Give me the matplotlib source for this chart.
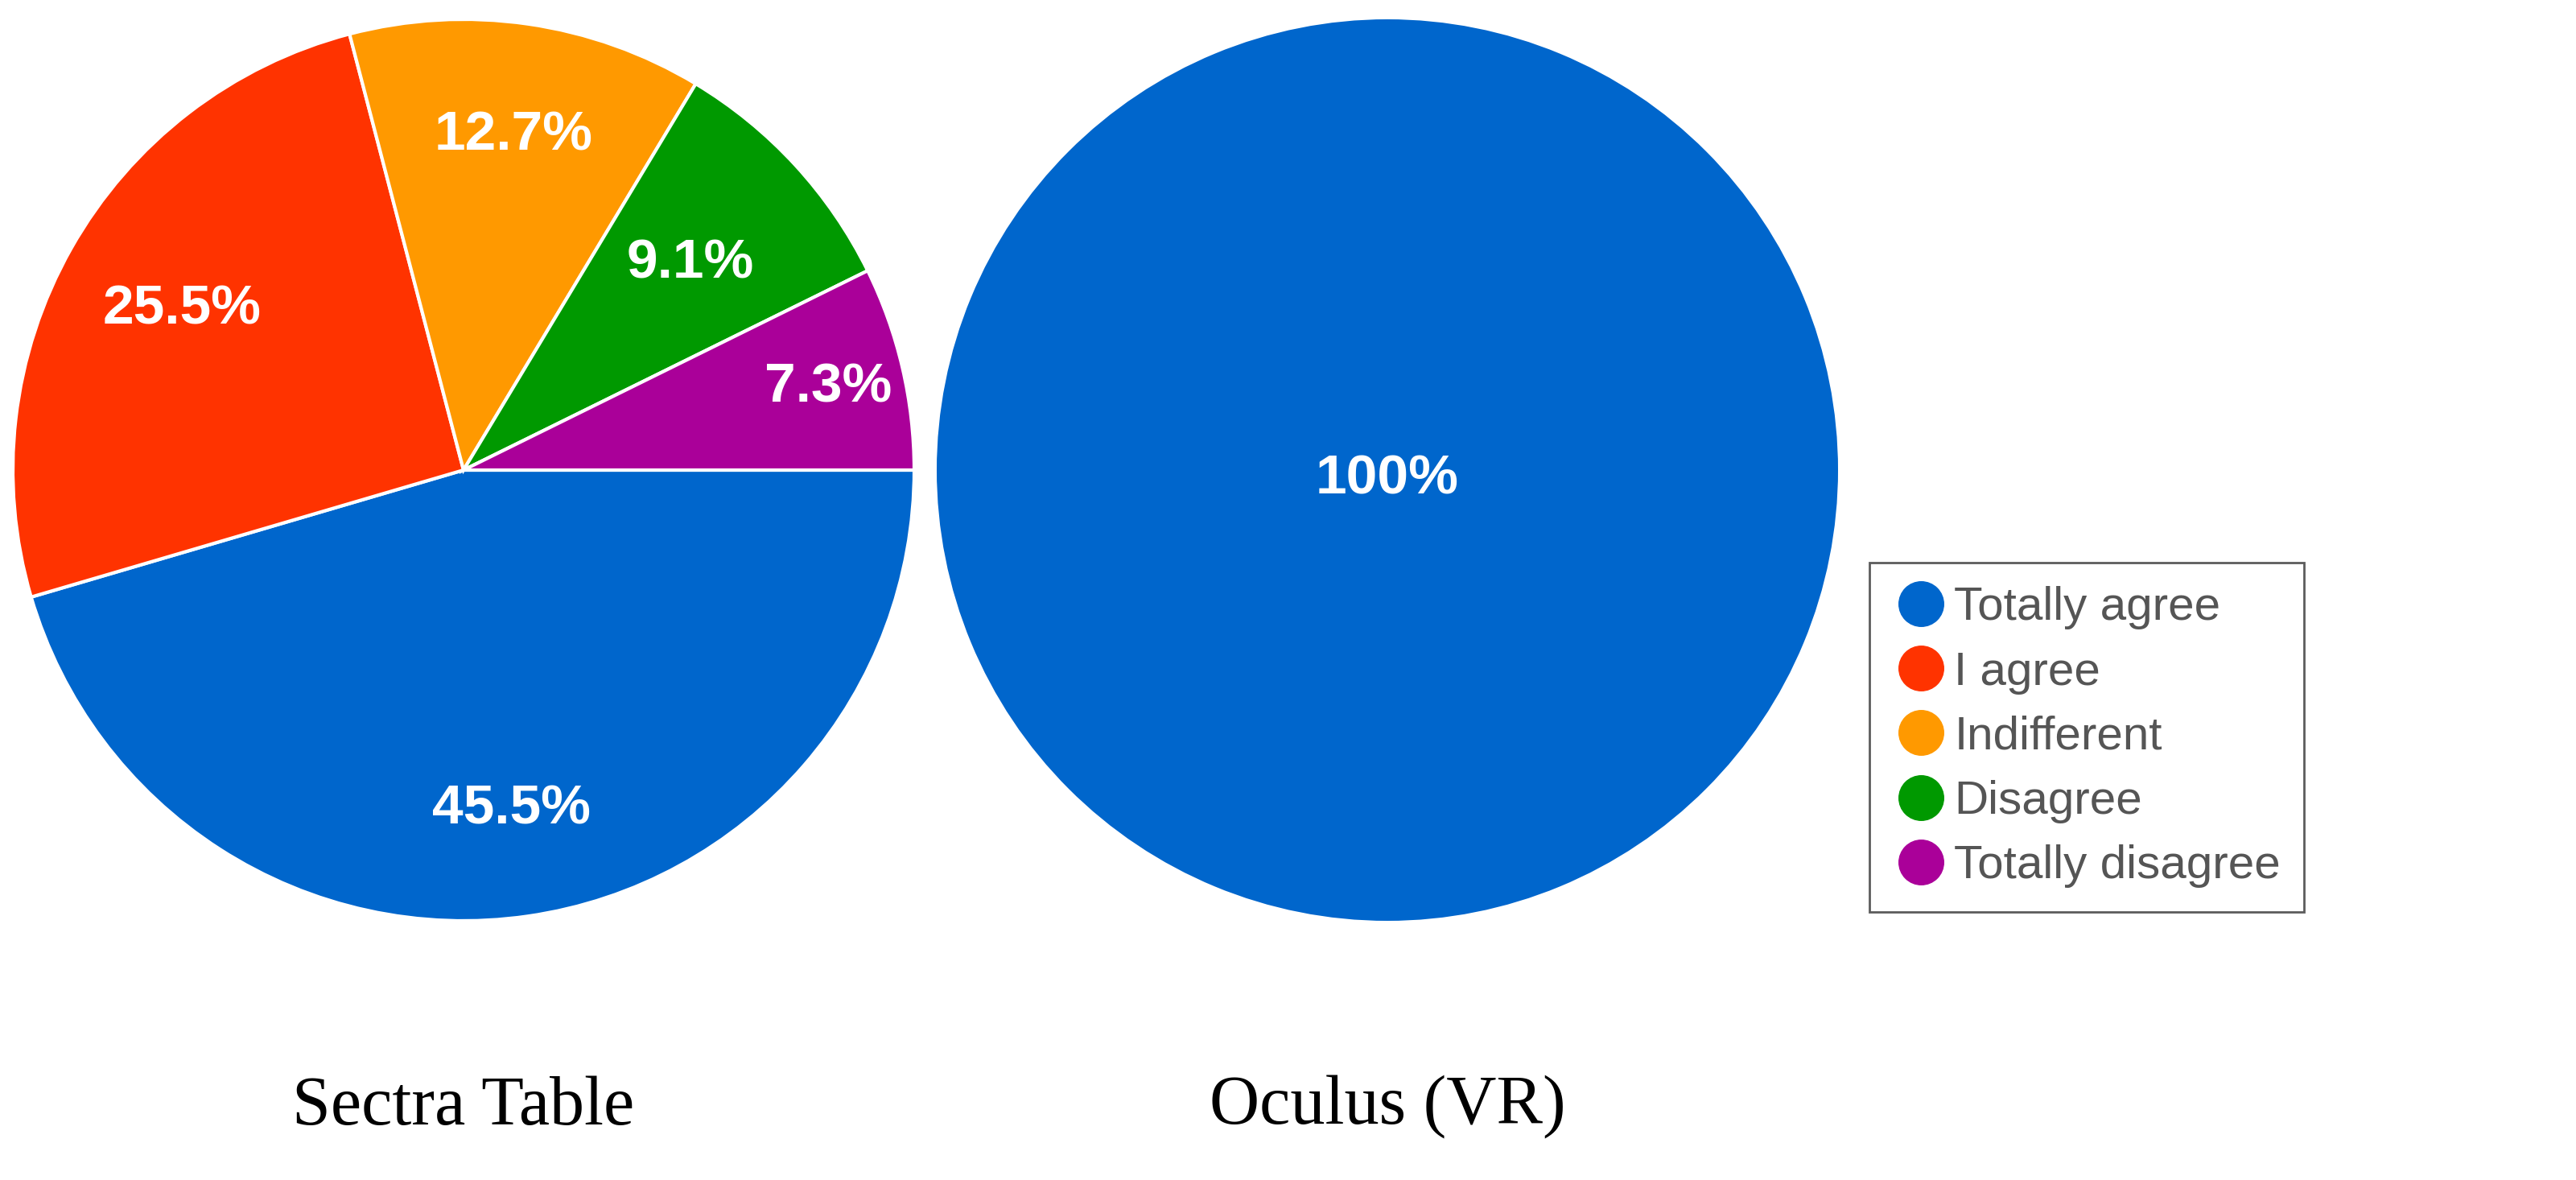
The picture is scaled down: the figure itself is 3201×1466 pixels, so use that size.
import matplotlib
matplotlib.use("Agg")
import matplotlib.pyplot as plt
from matplotlib.lines import Line2D
import numpy as np

labels = ["Totally agree", "I agree", "Indifferent", "Disagree", "Totally disagree"]
colors = ["#0066CC", "#FF3300", "#FF9900", "#009900", "#AA0099"]
sectra = [45.5, 25.5, 12.7, 9.1, 7.3]
oculus = [100]
titles = ["Sectra Table", "Oculus (VR)"]

W, H = 3201, 1466
fig = plt.figure(figsize=(W/100, H/100), dpi=100)
R = 560
def pie_ax(cx, cy):
    return fig.add_axes([(cx-R)/W, 1-(cy+R)/H, 2*R/W, 2*R/H])

ax1 = pie_ax(576, 584)
ax1.pie(sectra, colors=colors, startangle=0, counterclock=False,
        wedgeprops=dict(edgecolor="white", linewidth=3), radius=1)
acc = 0
dists = [0.76, 0.72, 0.75, 0.68, 0.83]
for v, d in zip(sectra, dists):
    mid = -(acc + v/2) / 100 * 2*np.pi
    acc += v
    ax1.text(d*np.cos(mid), d*np.sin(mid), f"{v}%", color="white", fontsize=50,
             fontweight="bold", ha="center", va="center", family="Liberation Sans")
ax1.set_xlim(-1, 1); ax1.set_ylim(-1, 1); ax1.set_aspect("equal")

ax2 = pie_ax(1724, 584)
ax2.pie(oculus, colors=colors[:1], startangle=90, radius=1)
ax2.text(0, -0.02, "100%", color="white", fontsize=50, fontweight="bold",
         ha="center", va="center", family="Liberation Sans")
ax2.set_xlim(-1, 1); ax2.set_ylim(-1, 1); ax2.set_aspect("equal")

fig.text(576/W, 1-1376/H, titles[0], fontsize=62, family="Liberation Serif", ha="center", va="center")
fig.text(1724/W, 1-1376/H, titles[1], fontsize=62, family="Liberation Serif", ha="center", va="center")

handles = [Line2D([], [], marker="o", linestyle="", markersize=40, markerfacecolor=c,
                  markeredgecolor=c) for c in colors]
leg = fig.legend(handles, labels, loc="upper left", bbox_to_anchor=(2294/W, 1-670/H),
                 frameon=True, fancybox=False, edgecolor="#333333",
                 labelcolor="#555555", handletextpad=0.1, labelspacing=0.45,
                 borderpad=0.5, handlelength=1.2,
                 prop={"family": "Liberation Sans", "size": 42})
leg.get_frame().set_linewidth(2)
fig.savefig("out.png", dpi=100)
